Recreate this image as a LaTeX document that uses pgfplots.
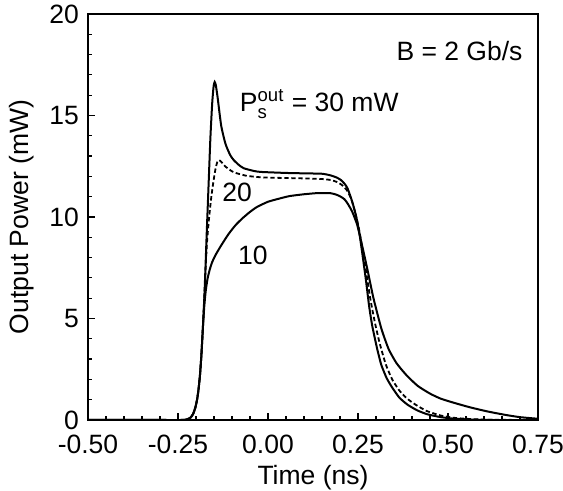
\documentclass[border=0pt]{standalone}
\usepackage{fontspec}
\setmainfont{Liberation Sans}
\setmathrm{Liberation Sans}
\usepackage{pgfplots}
\pgfplotsset{compat=1.18}
\begin{document}
\fontsize{13.25}{16}\selectfont
\begin{tikzpicture}[font=\fontsize{13.25}{16}\selectfont]
\useasboundingbox (-44pt,-35.5pt) rectangle (237.5pt,210pt);
\begin{axis}[
  at={(0,0)}, anchor=south west,
  scale only axis, width=225pt, height=203pt,
  xmin=-0.5, xmax=0.75, ymin=0, ymax=20,
  xtick={-0.5,-0.25,0,0.25,0.5,0.75},
  ytick={0,5,10,15,20},
  minor x tick num=4, minor y tick num=4,
  xtick pos=lower, ytick pos=left,
  tick align=inside,
  major tick length=3.5pt, minor tick length=1.8pt,
  axis line style={line width=0.8pt},
  every tick/.style={black, line width=0.6pt},
  tick label style={font=\fontsize{13.25}{16}\selectfont},
  x tick label style={/pgf/number format/.cd, fixed, fixed zerofill, precision=2, assume math mode=true, /tikz/.cd, yshift=-3pt},
  y tick label style={/pgf/number format/.cd, assume math mode=true, /tikz/.cd},
  xlabel={Time (ns)}, ylabel={Output Power (mW)},
  label style={font=\fontsize{13.25}{16}\selectfont},
  xlabel style={at={(axis description cs:0.5,-0.143)}, anchor=center},
  ylabel style={at={(axis description cs:-0.148,0.5)}, anchor=center},
  clip=true,
]
% 30 mW
\addplot[black, line width=1pt, smooth, tension=0.35] coordinates {
(-0.50,0) (-0.30,0) (-0.24,0) (-0.225,0.03) (-0.215,0.12) (-0.208,0.3) (-0.202,0.6)
(-0.197,1.0) (-0.193,1.5) (-0.189,2.2) (-0.185,3.2) (-0.181,4.5) (-0.176,6.4)
(-0.170,9.3) (-0.165,11.6) (-0.160,13.9) (-0.155,15.6) (-0.151,16.45) (-0.148,16.65)
(-0.145,16.5) (-0.140,15.9) (-0.130,14.5) (-0.118,13.6) (-0.105,13.05) (-0.095,12.8)
(-0.080,12.55) (-0.067,12.4) (-0.040,12.27) (-0.020,12.22) (0.05,12.17) (0.10,12.15)
(0.150,12.13) (0.174,12.05) (0.190,11.95) (0.202,11.83) (0.212,11.65) (0.221,11.41)
(0.234,10.75) (0.244,10.1) (0.253,9.3) (0.262,8.2) (0.272,6.9) (0.281,5.6) (0.290,4.6)
(0.304,3.45) (0.315,2.7) (0.330,2.05) (0.345,1.6) (0.365,1.1) (0.388,0.75) (0.415,0.47)
(0.443,0.28) (0.48,0.14) (0.52,0.06) (0.57,0.02) (0.62,0) (0.75,0)
};
% 20 mW
\addplot[black, line width=0.9pt, dash pattern=on 2.2pt off 1.3pt, smooth, tension=0.35] coordinates {
(-0.50,0) (-0.30,0) (-0.24,0) (-0.225,0.03) (-0.215,0.12) (-0.208,0.3) (-0.202,0.6)
(-0.197,1.0) (-0.193,1.5) (-0.189,2.2) (-0.185,3.2) (-0.181,4.5) (-0.176,6.4)
(-0.170,8.6) (-0.164,9.9) (-0.158,10.9) (-0.152,11.7) (-0.146,12.35) (-0.141,12.7)
(-0.136,12.8) (-0.130,12.72) (-0.118,12.48) (-0.100,12.25) (-0.086,12.15) (-0.060,12.03)
(-0.030,11.97) (0.00,11.94) (0.10,11.9) (0.150,11.87) (0.175,11.82) (0.192,11.72)
(0.205,11.58) (0.218,11.35) (0.231,10.9) (0.244,10.1) (0.255,9.2) (0.270,7.6)
(0.284,6.0) (0.297,4.8) (0.310,3.8) (0.327,2.75) (0.345,2.0) (0.365,1.45) (0.385,1.08)
(0.406,0.8) (0.44,0.45) (0.48,0.22) (0.52,0.1) (0.57,0.04) (0.62,0.01) (0.75,0)
};
% 10 mW
\addplot[black, line width=1pt, smooth, tension=0.35] coordinates {
(-0.50,0) (-0.30,0) (-0.24,0) (-0.225,0.03) (-0.215,0.12) (-0.208,0.3) (-0.202,0.6)
(-0.197,1.0) (-0.193,1.5) (-0.189,2.2) (-0.185,3.2) (-0.181,4.5) (-0.177,5.6)
(-0.173,6.35) (-0.168,6.95) (-0.162,7.4) (-0.155,7.78) (-0.145,8.15) (-0.130,8.6)
(-0.110,9.15) (-0.090,9.6) (-0.070,9.95) (-0.050,10.25) (-0.030,10.5) (0.00,10.75)
(0.03,10.9) (0.06,11.03) (0.10,11.12) (0.14,11.18) (0.174,11.17) (0.190,11.1)
(0.202,11.0) (0.212,10.88) (0.221,10.67) (0.234,10.26) (0.248,9.6) (0.262,8.55)
(0.277,7.35) (0.293,6.0) (0.315,4.5) (0.335,3.5) (0.357,2.8) (0.385,2.2) (0.416,1.68)
(0.45,1.3) (0.48,1.05) (0.516,0.85) (0.56,0.63) (0.61,0.42) (0.66,0.25) (0.70,0.14)
(0.75,0.06)
};
\node[anchor=east, inner sep=0pt] at (axis cs:0.708,18.2) {B = 2 Gb/s};
\node[anchor=base west, inner sep=0pt] at (axis cs:-0.079,15.19) {$\mathrm{P}_{\mathrm{s}}^{\mathrm{out}}$ = 30 mW};
\node[anchor=base, inner sep=0pt] at (axis cs:-0.086,10.75) {20};
\node[anchor=base, inner sep=0pt] at (axis cs:-0.042,7.64) {10};
\end{axis}
\end{tikzpicture}
\end{document}
